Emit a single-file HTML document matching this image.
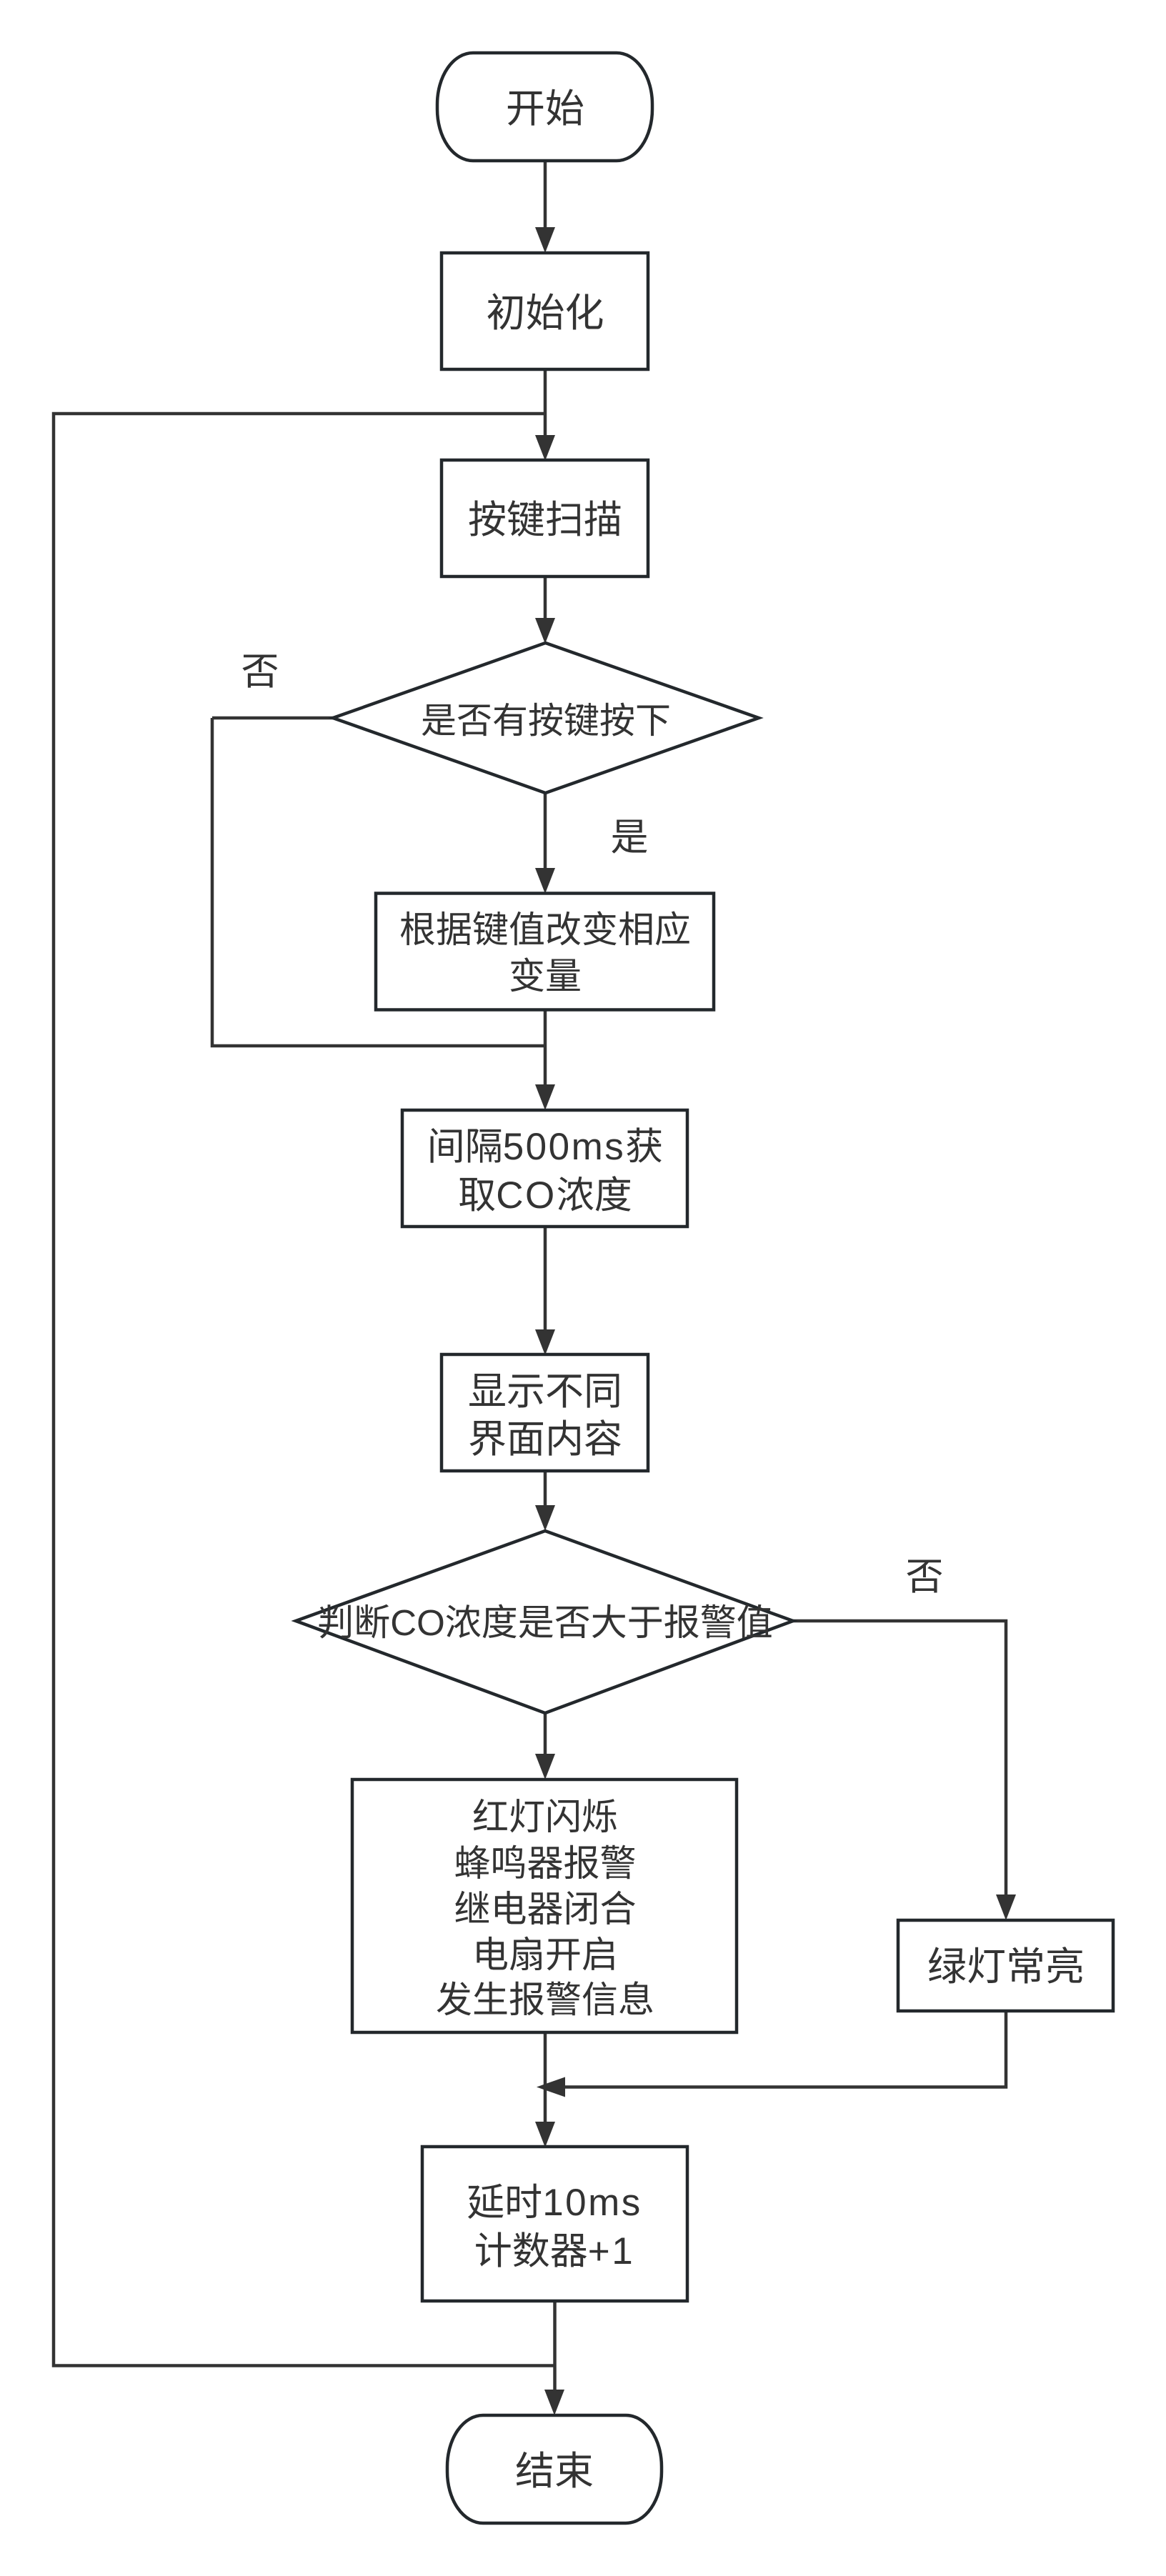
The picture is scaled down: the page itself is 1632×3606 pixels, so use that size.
<!DOCTYPE html>
<html lang="zh"><head><meta charset="utf-8"><style>
html,body{margin:0;padding:0;background:#fff}
svg{display:block}
text{font-family:"Liberation Sans","Noto Sans CJK SC",sans-serif;font-size:53px;fill:#333;text-anchor:middle}
tspan.w{letter-spacing:2.5px}
.s{fill:#fff;stroke:#23282c;stroke-width:4.5}
.l{fill:none;stroke:#333;stroke-width:4.5}
.a{fill:#333;stroke:none}
</style></head><body>
<svg width="1632" height="3606" viewBox="0 0 1632 3606" xmlns="http://www.w3.org/2000/svg">
<rect width="1632" height="3606" fill="#fff"/>
<path class="l" d="M763 226V320M763 517V610M763 579H75V3311.5H776M763 807V870M763 1110V1220M297 1005H466M297 1005V1464H763M763 1413V1525M763 1717V1865M763 2059V2110M763 2398V2460M1110 2269H1408V2655M1408 2815V2921.5H785M763 2845V2972M776.500 3221V3348"/>
<g class="a">
<polygon points="749,318 777,318 763,354"/>
<polygon points="749,609 777,609 763,645"/>
<polygon points="749,865 777,865 763,901"/>
<polygon points="749,1215 777,1215 763,1251"/>
<polygon points="749,1518 777,1518 763,1554"/>
<polygon points="749,1861 777,1861 763,1897"/>
<polygon points="749,2107 777,2107 763,2143"/>
<polygon points="749,2455 777,2455 763,2491"/>
<polygon points="1394,2652 1422,2652 1408,2688"/>
<polygon points="791,2907.500 791,2935.500 751,2921.500"/>
<polygon points="749,2970 777,2970 763,3006"/>
<polygon points="762,3345 790,3345 776,3381"/>
</g>
<rect class="s" x="612" y="74" width="301" height="151" rx="50" ry="72"/>
<rect class="s" x="618" y="354" width="289" height="163"/>
<rect class="s" x="618" y="644" width="289" height="163"/>
<polygon class="s" points="763.500,900 1062,1005 763.500,1110 466,1005"/>
<rect class="s" x="526" y="1250.500" width="473" height="163"/>
<rect class="s" x="563" y="1554" width="399" height="163"/>
<rect class="s" x="618" y="1896" width="289" height="163"/>
<polygon class="s" points="763,2143 1110,2269 763,2398 414,2269"/>
<rect class="s" x="493" y="2491" width="538" height="354"/>
<rect class="s" x="1257" y="2688" width="301" height="127"/>
<rect class="s" x="591" y="3005" width="371" height="216"/>
<rect class="s" x="626" y="3381" width="300" height="151" rx="50" ry="72"/>
<text x="763" y="171" style="font-size:55px">开始</text>
<text x="763" y="457" style="font-size:55px">初始化</text>
<text x="763" y="746" style="font-size:54px">按键扫描</text>
<text x="764" y="1026" style="font-size:50px">是否有按键按下</text>
<text x="364" y="958">否</text>
<text x="881" y="1190">是</text>
<text x="763" y="1319" style="font-size:51px">根据键值改变相应</text>
<text x="763" y="1384" style="font-size:51px">变量</text>
<text x="763" y="1623">间隔<tspan class="w">500ms</tspan>获</text>
<text x="763" y="1691">取<tspan class="w">CO</tspan>浓度</text>
<text x="763" y="1966" style="font-size:54px">显示不同</text>
<text x="763" y="2033" style="font-size:54px">界面内容</text>
<text x="763" y="2289" style="font-size:51px">判断CO浓度是否大于报警值</text>
<text x="1294" y="2225">否</text>
<text x="763" y="2561" style="font-size:51px">红灯闪烁</text>
<text x="763" y="2626" style="font-size:51px">蜂鸣器报警</text>
<text x="763" y="2690" style="font-size:51px">继电器闭合</text>
<text x="763" y="2754" style="font-size:51px">电扇开启</text>
<text x="763" y="2817" style="font-size:51px">发生报警信息</text>
<text x="1408" y="2772" style="font-size:55px">绿灯常亮</text>
<text x="776" y="3101">延时<tspan class="w">10ms</tspan></text>
<text x="776" y="3169">计数器<tspan class="w">+1</tspan></text>
<text x="776" y="3478" style="font-size:55px">结束</text>
</svg>
</body></html>
